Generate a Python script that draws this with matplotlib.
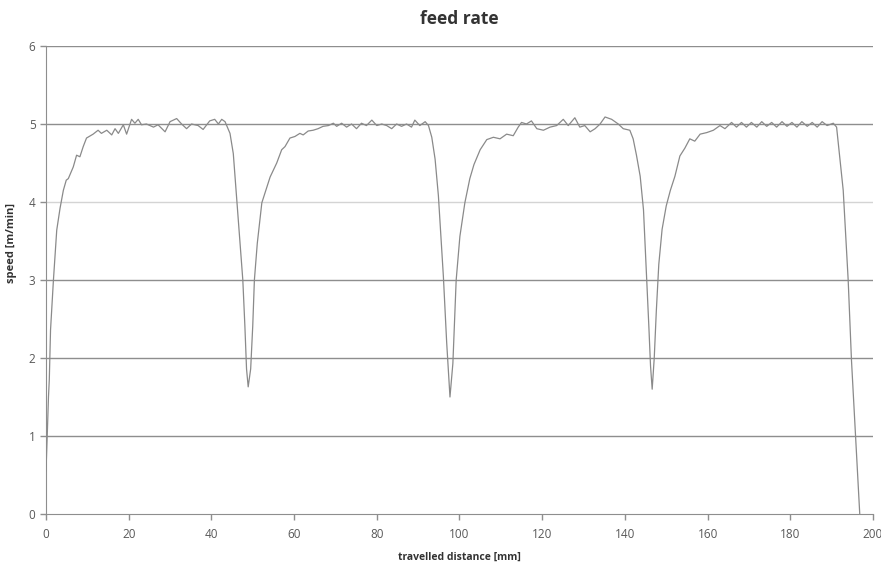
import matplotlib.pyplot as plt

# travelled distance [mm] and speed [m/min]
dist = [
    0.0, 0.3, 0.6, 0.8, 1.1, 1.8, 2.6, 3.4, 4.2, 4.9,
    5.4, 6.6, 7.4, 8.2, 9.0, 9.8, 11.4, 12.6, 13.4, 14.7,
    15.9, 16.7, 17.5, 18.7, 19.5, 20.7, 21.5, 22.3, 23.1, 24.3,
    26.0, 27.1, 28.8, 30.0, 31.6, 32.8, 34.0, 35.2, 36.8, 38.0,
    39.6, 40.8, 41.7, 42.5, 43.3, 44.5, 45.3, 46.1, 46.9, 47.6,
    48.1, 48.5, 48.9, 49.5, 50.0, 50.4, 51.1, 52.2, 54.2, 55.8,
    57.0, 57.8, 59.0, 60.2, 61.4, 62.2, 63.4, 64.6, 65.8, 67.0,
    68.3, 69.5, 70.3, 71.5, 72.7, 73.9, 75.1, 76.3, 77.5, 78.8,
    80.0, 81.2, 82.4, 83.6, 84.8, 86.0, 87.2, 88.4, 89.2, 90.4,
    91.7, 92.5, 93.3, 94.1, 94.9, 96.1, 96.9, 97.7, 98.4, 99.2,
    100.1, 101.3, 102.5, 103.5, 105.0, 106.6, 108.2, 109.8, 111.4, 113.0,
    114.2, 115.0, 116.2, 117.4, 118.7, 120.3, 121.9, 123.5, 125.1, 126.3,
    127.9, 129.1, 130.3, 131.6, 132.8, 134.0, 135.2, 136.8, 138.4, 139.6,
    141.2, 142.0, 142.8, 143.7, 144.5, 145.2, 145.8, 146.2, 146.6, 147.1,
    147.6, 148.2, 149.0, 150.0, 151.0, 152.1, 153.3, 154.5, 155.7, 156.9,
    158.2, 159.8, 161.4, 163.0, 164.2, 165.8, 167.0, 168.2, 169.4, 170.6,
    171.9, 173.1, 174.3, 175.5, 176.7, 178.0, 179.2, 180.4, 181.6, 182.8,
    184.1, 185.3, 186.5, 187.7, 188.9, 190.4, 191.2, 192.0, 192.8, 194.0,
    194.8, 195.8, 196.8,
]
speed = [
    0.55, 1.00, 1.50, 1.72, 2.36, 3.00, 3.64, 3.92, 4.15, 4.28,
    4.30, 4.45, 4.60, 4.58, 4.71, 4.82, 4.87, 4.92, 4.88, 4.92,
    4.86, 4.94, 4.88, 4.99, 4.87, 5.06, 5.01, 5.06, 4.99, 5.00,
    4.96, 4.99, 4.90, 5.03, 5.07, 5.00, 4.94, 5.00, 4.98, 4.93,
    5.04, 5.06, 5.00, 5.06, 5.03, 4.88, 4.62, 4.05, 3.47, 3.00,
    2.41, 1.86, 1.63, 1.86, 2.41, 3.00, 3.47, 3.99, 4.32, 4.50,
    4.67, 4.71, 4.82, 4.84, 4.88, 4.86, 4.91, 4.92, 4.94, 4.97,
    4.98, 5.01, 4.97, 5.01, 4.96, 5.00, 4.94, 5.01, 4.98, 5.05,
    4.98, 5.00, 4.98, 4.94, 5.00, 4.97, 5.00, 4.96, 5.05, 4.98,
    5.03, 4.98, 4.83, 4.55, 4.08, 3.05, 2.20, 1.50, 1.93, 3.00,
    3.56, 3.99, 4.30, 4.48, 4.67, 4.80, 4.83, 4.81, 4.87, 4.85,
    4.96, 5.02, 5.00, 5.04, 4.94, 4.92, 4.96, 4.98, 5.06, 4.98,
    5.08, 4.96, 4.98, 4.90, 4.94, 5.00, 5.09, 5.06, 5.00, 4.94,
    4.92, 4.81, 4.60, 4.33, 3.90, 3.10, 2.40, 1.90, 1.60, 2.00,
    2.60, 3.20, 3.65, 3.95, 4.15, 4.33, 4.59, 4.69, 4.81, 4.78,
    4.87, 4.89, 4.92, 4.98, 4.94, 5.02, 4.96, 5.02, 4.96, 5.02,
    4.96, 5.03, 4.97, 5.02, 4.96, 5.03, 4.97, 5.02, 4.96, 5.03,
    4.97, 5.02, 4.96, 5.03, 4.98, 5.01, 4.96, 4.55, 4.15, 3.00,
    1.97, 0.99, 0.00,
]

x_ticks = [0, 20, 40, 60, 80, 100, 120, 140, 160, 180, 200]
y_ticks = [0, 1, 2, 3, 4, 5, 6]

plt.rcParams['font.family'] = ['Open Sans', 'DejaVu Sans']

fig = plt.figure(figsize=(8.81, 5.68), dpi=100)
ax = fig.add_axes([0.0522, 0.0951, 0.9387, 0.8239])

# horizontal grid lines (the one at 4 is lighter in the original)
for v in y_ticks[1:]:
    ax.axhline(v, color='#d4d4d4' if v == 4 else '#8e8e8e', lw=1.0, zorder=1)

ax.plot(dist, speed, color='#8a8a8a', lw=0.9, zorder=3)

ax.set_xlim(0, 200)
ax.set_ylim(0, 6)
ax.set_xticks(x_ticks)
ax.set_yticks(y_ticks)
ax.tick_params(axis='both', colors='#8e8e8e', labelcolor='#595959',
               labelsize=8.5, length=4, width=1)
ax.tick_params(axis='x', pad=6)
for side in ['top', 'right']:
    ax.spines[side].set_visible(False)
for side in ['left', 'bottom']:
    ax.spines[side].set_color('#8e8e8e')

ax.set_title('feed rate', fontsize=12.5, fontweight='bold', color='#333333', pad=16)
ax.set_xlabel('travelled distance [mm]', fontsize=7.5, fontweight='bold',
              color='#333333', labelpad=8)
ax.set_ylabel('speed [m/min]', fontsize=8, fontweight='bold', color='#333333')
ax.yaxis.set_label_coords(-0.035, 0.58)

fig.savefig('out.png', dpi=100)
